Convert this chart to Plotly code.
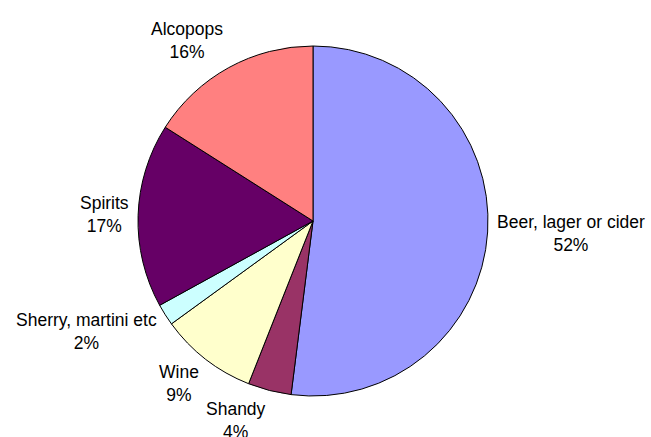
import math
import plotly.graph_objects as go

labels = ["Beer, lager or cider", "Shandy", "Wine", "Sherry, martini etc", "Spirits", "Alcopops"]
values = [52, 4, 9, 2, 17, 16]
colors = ["#9999FF", "#993366", "#FFFFCC", "#CCFFFF", "#660066", "#FF8080"]

W, H = 651, 437
cx, cy, r = 313, 221, 175
gap = 7
half_h = 24
font = dict(family="Liberation Sans, Arial, sans-serif", size=17.5, color="black")

fig = go.Figure(go.Pie(
    labels=labels,
    values=values,
    sort=False,
    direction="clockwise",
    rotation=0,
    marker=dict(colors=colors, line=dict(color="black", width=1)),
    textinfo="none",
    showlegend=False,
    hoverinfo="label+percent",
    domain=dict(x=[(cx - r) / W, (cx + r) / W], y=[(H - cy - r) / H, (H - cy + r) / H]),
))

total = sum(values)
cum = 0
for lab, v in zip(labels, values):
    mid = (cum + v / 2) / total * 2 * math.pi
    cum += v
    dx, dy = math.sin(mid), math.cos(mid)
    px = cx + (r + gap) * dx
    py = (H - cy) + (r + gap) * dy
    xanchor = "left" if dx > 0.05 else ("right" if dx < -0.05 else "center")
    fig.add_annotation(
        x=px / W, y=py / H, xref="paper", yref="paper",
        text=f"{lab}<br>{round(v / total * 100)}%",
        showarrow=False, xanchor=xanchor, yanchor="middle",
        yshift=dy * half_h, align="center", font=font,
    )

fig.update_layout(
    width=W, height=H,
    margin=dict(l=0, r=0, t=0, b=0),
    paper_bgcolor="white", plot_bgcolor="white",
)
fig.write_html("out.html", config={"displayModeBar": False},
               post_script="document.body.style.margin='0';")
